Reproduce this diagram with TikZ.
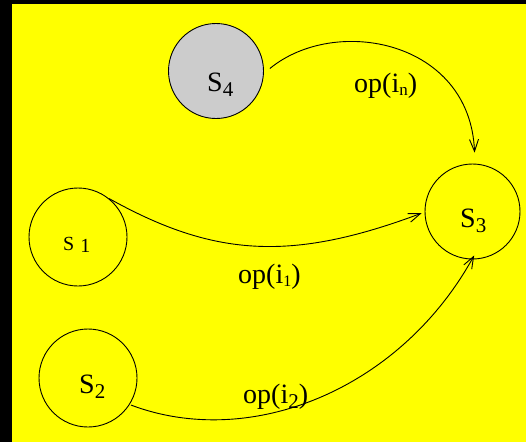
\documentclass[tikz,border=0pt]{standalone}
\usepackage{fontspec}
\setmainfont{Liberation Serif}
\usetikzlibrary{arrows.meta}
\definecolor{bgyellow}{HTML}{FFFF00}
\definecolor{stategray}{HTML}{CCCCCC}
\newcommand\mysub[3]{\raisebox{-#2}{\fontsize{#1}{#1}\selectfont #3}}
\begin{document}
\begin{tikzpicture}[x=1pt,y=-1pt,
  state/.style={draw=black,line width=0.9pt,circle,inner sep=0pt},
  txt/.style={anchor=base west,inner sep=0pt,font=\fontsize{28}{31}\selectfont},
  conn/.style={draw=black,line width=0.9pt,-{Straight Barb[length=12pt,width=9pt,line width=0.9pt]}}]
\useasboundingbox (0,0) rectangle (526,442);
\fill[black] (0,0) rectangle (526,442);
\fill[bgyellow] (12,4) rectangle (526,442);
\node[state,fill=stategray,minimum size=95pt] (s4) at (216,71) {};
\node[state,minimum size=98pt] (s1) at (78,237) {};
\node[state,minimum size=98pt] (s2) at (88,378) {};
\node[state,minimum size=95pt] (s3) at (472.5,211.5) {};
\node[txt] (t4) at (207,91) {S\mysub{21}{5pt}{4}};
\node[txt] (t3) at (460,227) {S\mysub{21}{5pt}{3}};
\node[txt] (t2) at (79,393) {S\mysub{21}{5pt}{2}};
\node[txt,font=\fontsize{20}{22}\selectfont] (t1) at (63,250) {S\hspace{6pt}\raisebox{-2pt}{1}};
\node[txt] (ln) at (354,92) {op(i\mysub{17}{3pt}{n})};
\node[txt] (l1) at (238,283) {op(i\mysub{16}{3pt}{1})};
\node[txt] (l2) at (243,403) {op(i\mysub{21}{5pt}{2})};
\draw[conn,shorten >=11pt] ([xshift=6pt]s4.3) .. controls (335,15) and (470,40) .. (s3.87);
\draw[conn] (s1.51) .. controls (214,257) and (291,262) .. ([xshift=-3pt]s3.182);
\draw[conn] ([shift={(3pt,2pt)}]s2.-36) .. controls (250,450) and (400,390) .. ([yshift=4pt]s3.-88);
\end{tikzpicture}
\end{document}
